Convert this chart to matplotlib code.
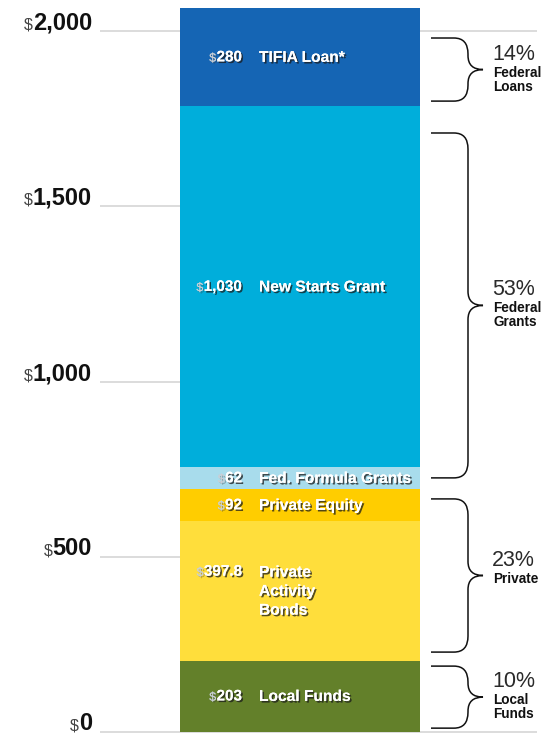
import matplotlib
matplotlib.use('Agg')
import matplotlib.pyplot as plt
import matplotlib.patheffects as pe
from matplotlib.path import Path
from matplotlib.patches import PathPatch

# segments from bottom to top
categories = ['Local Funds', 'Private\nActivity\nBonds', 'Private Equity',
              'Fed. Formula Grants', 'New Starts Grant', 'TIFIA Loan*']
values = [203, 397.8, 92, 62, 1030, 280]
value_labels = ['203', '397.8', '92', '62', '1,030', '280']
colors = ['#63802a', '#ffde3b', '#ffcd00', '#a8dcec', '#00aedb', '#1565b4']

tick_values = [0, 500, 1000, 1500, 2000]
tick_labels = ['0', '500', '1,000', '1,500', '2,000']

group_names = ['Local\nFunds', 'Private', 'Federal\nGrants', 'Federal\nLoans']
group_pcts = ['10%', '23%', '53%', '14%']
group_spans = [(11, 188), (228, 665), (725, 1709), (1800, 1980)]

PX = 0.3505  # pixels per dollar unit
FONT = 'Liberation Sans'

fig = plt.figure(figsize=(5.52, 7.33), dpi=100)
ax = fig.add_axes([0, 0, 1, 1])
ax.set_xlim(0, 552)
ax.set_ylim(-1 / PX, 732 / PX)
ax.axis('off')

# gridlines
for v in tick_values:
    x_end = 537 if v in (0, 2000) else 180
    ax.plot([100, x_end], [v, v], color='#d2d2d2', lw=1.1, zorder=1,
            solid_capstyle='butt')

bottoms = [sum(values[:i]) for i in range(len(values))]
ax.bar(300, values, width=240, bottom=bottoms, color=colors, linewidth=0, zorder=2)

shadow = [pe.withSimplePatchShadow(offset=(1.2, -1.2), shadow_rgbFace='#1a1a1a', alpha=0.75),
          pe.Normal()]
soft_shadow = [pe.withSimplePatchShadow(offset=(1, -1), shadow_rgbFace='#333333', alpha=0.35),
               pe.Normal()]

fig.canvas.draw()
renderer = fig.canvas.get_renderer()
inv = ax.transData.inverted()


def dollar_before(txt, y, size, color, gap, effects=None):
    bb = txt.get_window_extent(renderer)
    x0 = inv.transform((bb.x0, bb.y0))[0]
    ax.text(x0 + gap, y, '$', ha='right', va='baseline', fontsize=size,
            color=color, family=FONT, zorder=4, path_effects=effects)


# y-axis labels
for v, lab in zip(tick_values, tick_labels):
    yb = v + 1.5 / PX
    t = ax.text(92, yb, lab, ha='right', va='baseline', fontsize=17,
                fontweight='bold', family=FONT, color='#111111')
    dollar_before(t, yb, 11.5, '#444444', 0.3)

# segment labels
for b, v, vl, cat in zip(bottoms, values, value_labels, categories):
    mid = b + v / 2
    nlines = cat.count('\n') + 1
    line_h = 19.5 / PX
    yv = mid + (nlines - 1) * line_h / 2
    t = ax.text(242, yv, vl, ha='right', va='center', fontsize=11, fontweight='bold',
                color='white', family=FONT, zorder=4, path_effects=shadow)
    dollar_before(t, yv - 4.4 / PX, 9, '#c9cfd6', -0.3, soft_shadow)
    ax.text(259, mid, cat, ha='left', va='center', fontsize=11.2, fontweight='bold',
            color='white', family=FONT, linespacing=1.33, zorder=4, path_effects=shadow)

# braces
x0, xs, xt = 431, 468, 483
rx, ry, rt = 14, 16 / PX, 14 / PX
for (lo, hi), name, pct in zip(group_spans, group_names, group_pcts):
    tip = (lo + hi) / 2
    verts = [(x0, hi), (xs - rx, hi), (xs, hi), (xs, hi - ry),
             (xs, tip + rt), (xs, tip), (xt, tip),
             (xs, tip), (xs, tip - rt),
             (xs, lo + ry), (xs, lo), (xs - rx, lo), (x0, lo)]
    codes = [Path.MOVETO, Path.LINETO, Path.CURVE3, Path.CURVE3,
             Path.LINETO, Path.CURVE3, Path.CURVE3,
             Path.CURVE3, Path.CURVE3,
             Path.LINETO, Path.CURVE3, Path.CURVE3, Path.LINETO]
    ax.add_patch(PathPatch(Path(verts, codes), facecolor='none', edgecolor='#111111',
                           lw=1.1, zorder=3))
    ax.text(492, tip + 10 / PX, pct, ha='left', va='baseline', fontsize=15.5,
            color='#2a2a2a', family=FONT)
    ax.text(493, tip + 4 / PX, name, ha='left', va='top', fontsize=9.8,
            fontweight='bold', color='#111111', family=FONT, linespacing=1.0)

fig.savefig('out.png', dpi=100)
